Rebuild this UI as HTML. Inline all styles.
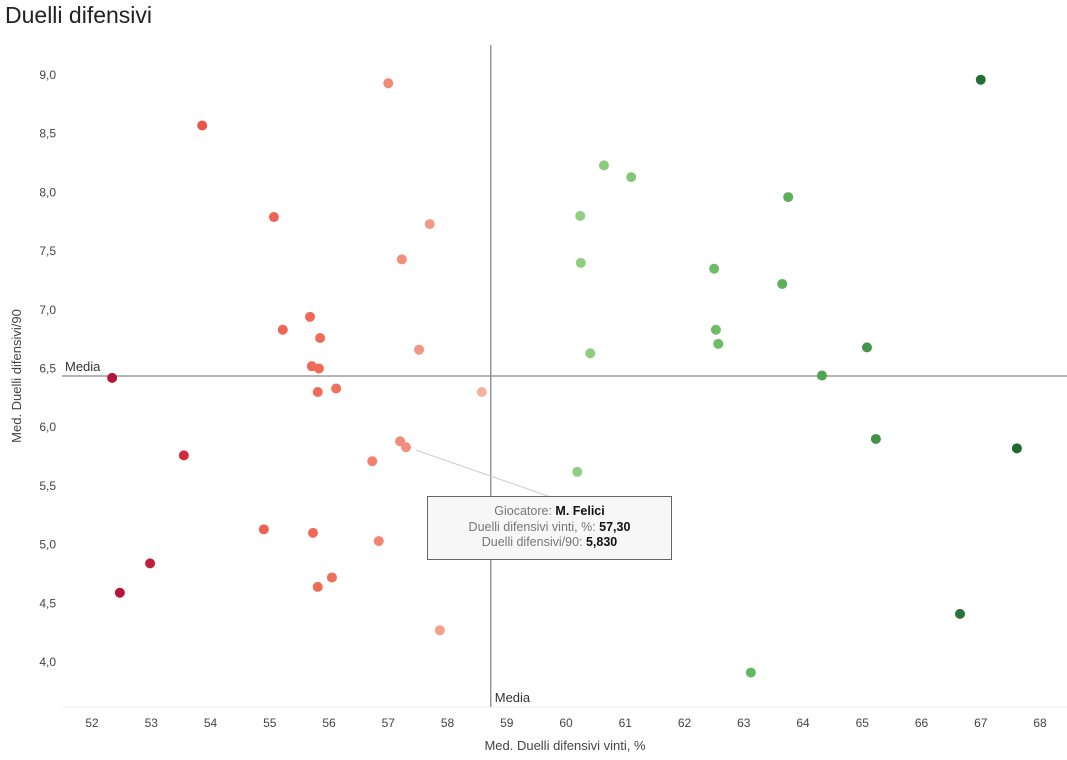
<!DOCTYPE html>
<html><head><meta charset="utf-8"><style>
body{margin:0;background:#fff;font-family:"Liberation Sans",sans-serif;}
#wrap{position:relative;width:1067px;height:760px;overflow:hidden}
h1{position:absolute;left:5px;top:2px;margin:0;font-weight:normal;font-size:23px;color:#222}
#tip{position:absolute;left:427px;top:496px;width:245px;height:64px;background:#f7f7f7;border:1px solid #666;font-size:12.5px;color:#777;text-align:center;line-height:15.5px;padding-top:7px;box-sizing:border-box}
#tip b{color:#111}
</style></head><body>
<div id="wrap">
<h1>Duelli difensivi</h1>
<svg id="chart" width="1067" height="760" style="position:absolute;left:0;top:0"></svg>
<div id="tip">Giocatore: <b>M. Felici</b><br>Duelli difensivi vinti, %: <b>57,30</b><br>Duelli difensivi/90: <b>5,830</b></div>
</div>
<script>
const xTicks=[52,53,54,55,56,57,58,59,60,61,62,63,64,65,66,67,68];
const yTicks=[4.0,4.5,5.0,5.5,6.0,6.5,7.0,7.5,8.0,8.5,9.0];
const meanX=58.73, meanY=6.436;
const xVals=[57.00,53.86,55.07,57.70,57.23,55.68,55.22,55.85,57.52,55.71,55.83,52.34,56.12,55.81,58.58,57.20,57.30,53.55,56.73,60.19,54.90,55.73,56.84,52.98,56.05,55.81,52.47,57.87,
67.00,60.64,61.10,63.75,60.24,60.25,62.50,63.65,62.53,62.57,60.41,65.08,64.32,65.23,67.61,66.65,63.12];
const yVals=[8.93,8.57,7.79,7.73,7.43,6.94,6.83,6.76,6.66,6.52,6.50,6.42,6.33,6.30,6.30,5.88,5.83,5.76,5.71,5.62,5.13,5.10,5.03,4.84,4.72,4.64,4.59,4.27,
8.96,8.23,8.13,7.96,7.80,7.40,7.35,7.22,6.83,6.71,6.63,6.68,6.44,5.90,5.82,4.41,3.91];
const X=v=>92+(v-52)*59.25, Y=v=>75+(9-v)*117.4;
const svg=document.getElementById('chart');const NS='http://www.w3.org/2000/svg';
function mk(t,a,p){const e=document.createElementNS(NS,t);for(const k in a)e.setAttribute(k,a[k]);(p||svg).appendChild(e);return e;}
function lerp(a,b,t){t=Math.max(0,Math.min(1,t));return a.map((v,i)=>Math.round(v+(b[i]-v)*t));}
function col(x){
 if(x<meanX){let t=(meanX-x)/6.3;
  let c=t<0.45?lerp([246,180,162],[239,108,88],t/0.45):(t<0.78?lerp([239,108,88],[232,88,72],(t-0.45)/0.33):lerp([215,50,60],[183,20,58],(t-0.78)/0.2));return `rgb(${c})`;}
 let t=Math.min(1,(x-meanX)/8.5);
 let c=t<0.55?lerp([166,219,143],[96,182,92],t/0.55):lerp([96,182,92],[30,105,52],(t-0.55)/0.45);return `rgb(${c})`;}
const fmt=v=>v.toFixed(1).replace('.',',');
yTicks.forEach(v=>{const t=mk('text',{x:56,y:Y(v)+4,'text-anchor':'end','font-size':12,fill:'#444'});t.textContent=fmt(v);
});
xTicks.forEach(v=>{const t=mk('text',{x:X(v),y:727,'text-anchor':'middle','font-size':12,fill:'#444'});t.textContent=v;
});
let l=mk('line',{x1:62,x2:1067,y1:707,y2:707,stroke:'#eee'});
l=mk('line',{x1:X(meanX),x2:X(meanX),y1:45,y2:707,stroke:'#888','stroke-width':1.3});
l=mk('line',{x1:62,x2:1067,y1:Y(meanY),y2:Y(meanY),stroke:'#888','stroke-width':1.3});
let t=mk('text',{x:65,y:Y(meanY)-5,'font-size':13,fill:'#333'});t.textContent='Media';
t=mk('text',{x:X(meanX)+4,y:702,'font-size':13,fill:'#333'});t.textContent='Media';
t=mk('text',{x:565,y:750,'text-anchor':'middle','font-size':13,fill:'#444'});t.textContent='Med. Duelli difensivi vinti, %';
t=mk('text',{x:0,y:0,'text-anchor':'middle','font-size':13,fill:'#444',transform:'translate(21,376) rotate(-90)'});t.textContent='Med. Duelli difensivi/90';
l=mk('line',{x1:X(57.30)+10,y1:Y(5.83)+3,x2:548,y2:496,stroke:'#ccc'});
xVals.forEach((x,i)=>{const c=mk('circle',{cx:X(x),cy:Y(yVals[i]),r:5,fill:col(x)});

});
</script>
</body></html>
